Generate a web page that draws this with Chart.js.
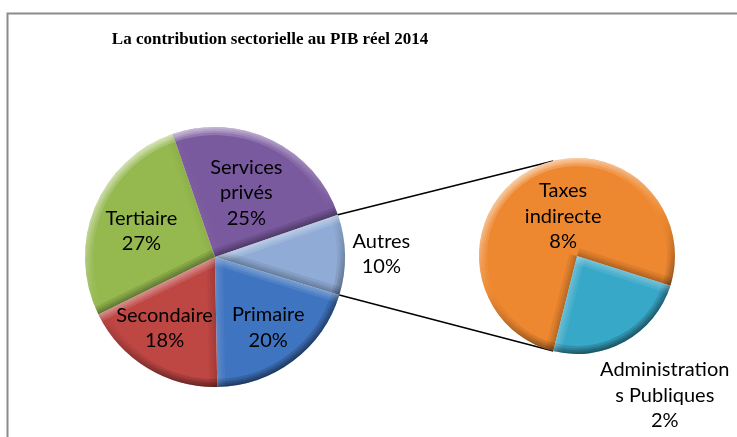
<!DOCTYPE html>
<html>
<head>
<meta charset="utf-8">
<script src="https://cdn.jsdelivr.net/npm/chart.js@4.4.0/dist/chart.umd.min.js"></script>
<style>
  html, body { margin: 0; padding: 0; background: #fff; }
  #wrap { position: relative; width: 737px; height: 437px; }
  #wrap canvas { position: absolute; left: 0; top: 0; }
</style>
</head>
<body>
<div id="wrap">
  <canvas id="mainPie" width="737" height="437"></canvas>
  <canvas id="subPie" width="737" height="437"></canvas>
</div>
<script>
// data
const chartTitle = 'La contribution sectorielle au PIB réel 2014';
const mainLabels = [['Primaire'], ['Secondaire'], ['Tertiaire'], ['Services', 'privés'], ['Autres']];
const mainValues = [20, 18, 27, 25, 10];
const subLabels = [['Taxes', 'indirecte'], ['Administration', 's Publiques']];
const subValues = [7.6, 2.4];

const mainColors = ['#3f74c0', '#be4643', '#95b84f', '#7a5a9e', '#90acd6'];
const subColors = ['#ee8830', '#38a8c8'];

const labelFont = '20px Lato';
const lineH = 25.5;
const light = { x: -0.4, y: -0.92 };

function shade(d, k) {
  return d > 0 ? 'rgba(255,255,255,' + (0.55 * k * d).toFixed(3) + ')'
               : 'rgba(0,0,0,' + (-0.45 * k * d).toFixed(3) + ')';
}

// fake excel bevel: light band on edges facing up-left, dark on the others
const bevel = {
  id: 'bevel',
  afterDatasetsDraw(chart) {
    const ctx = chart.ctx;
    chart.getDatasetMeta(0).data.forEach(function (arc) {
      const p = arc.getProps(['x', 'y', 'startAngle', 'endAngle', 'outerRadius'], true);
      const R = p.outerRadius;
      ctx.save();
      ctx.beginPath();
      ctx.moveTo(p.x, p.y);
      ctx.arc(p.x, p.y, R, p.startAngle, p.endAngle);
      ctx.closePath();
      ctx.clip();

      const cg = ctx.createConicGradient(0, p.x, p.y);
      for (let i = 0; i <= 36; i++) {
        const a = i / 36 * Math.PI * 2;
        cg.addColorStop(i / 36, shade(Math.cos(a) * light.x + Math.sin(a) * light.y, 1));
      }
      const n1 = { x: Math.sin(p.startAngle), y: -Math.cos(p.startAngle) };
      const n2 = { x: -Math.sin(p.endAngle), y: Math.cos(p.endAngle) };
      const s1 = shade(n1.x * light.x + n1.y * light.y, 0.6);
      const s2 = shade(n2.x * light.x + n2.y * light.y, 0.6);

      [16, 11, 7, 3].forEach(function (w) {
        ctx.globalAlpha = 0.35;
        ctx.lineWidth = w;
        ctx.strokeStyle = cg;
        ctx.beginPath();
        ctx.arc(p.x, p.y, R, p.startAngle, p.endAngle);
        ctx.stroke();
        ctx.strokeStyle = s1;
        ctx.beginPath();
        ctx.moveTo(p.x, p.y);
        ctx.lineTo(p.x + R * Math.cos(p.startAngle), p.y + R * Math.sin(p.startAngle));
        ctx.stroke();
        ctx.strokeStyle = s2;
        ctx.beginPath();
        ctx.moveTo(p.x, p.y);
        ctx.lineTo(p.x + R * Math.cos(p.endAngle), p.y + R * Math.sin(p.endAngle));
        ctx.stroke();
      });
      ctx.restore();
    });
  }
};

// labels: name lines + rounded percent, placed near the slice bisector
const sliceLabels = {
  id: 'sliceLabels',
  afterDraw(chart, args, opts) {
    const ctx = chart.ctx;
    const data = chart.data.datasets[0].data;
    ctx.save();
    ctx.font = labelFont;
    ctx.fillStyle = '#000';
    ctx.textAlign = 'center';
    ctx.textBaseline = 'middle';
    chart.getDatasetMeta(0).data.forEach(function (arc, i) {
      const p = arc.getProps(['x', 'y', 'startAngle', 'endAngle', 'outerRadius'], true);
      const mid = (p.startAngle + p.endAngle) / 2 + (opts.turn[i] || 0) * Math.PI / 180;
      const r = p.outerRadius * opts.dist[i];
      const cx = p.x + r * Math.cos(mid);
      const cy = p.y + r * Math.sin(mid);
      const lines = chart.data.labels[i].concat([Math.round(data[i]) + '%']);
      const y0 = cy - (lines.length - 1) * lineH / 2;
      lines.forEach(function (t, k) {
        ctx.fillText(t, cx, y0 + k * lineH);
      });
    });
    ctx.restore();
  }
};

const frame = {
  id: 'frame',
  beforeDraw(chart) {
    const ctx = chart.ctx;
    ctx.save();
    ctx.strokeStyle = '#8c8c8c';
    ctx.lineWidth = 2;
    ctx.beginPath();
    ctx.moveTo(7.5, 437);
    ctx.lineTo(7.5, 13.5);
    ctx.lineTo(737, 13.5);
    ctx.stroke();
    ctx.font = 'bold 17px "Liberation Serif"';
    ctx.fillStyle = '#000';
    ctx.textAlign = 'center';
    ctx.textBaseline = 'middle';
    ctx.fillText(chartTitle, 270, 40);
    ctx.restore();
  }
};

const mainChart = new Chart(document.getElementById('mainPie'), {
  type: 'pie',
  data: {
    labels: mainLabels,
    datasets: [{
      data: mainValues,
      backgroundColor: mainColors,
      borderWidth: 0
    }]
  },
  options: {
    responsive: false,
    animation: false,
    events: [],
    rotation: 107,
    layout: { padding: { left: 85, right: 392, top: 127, bottom: 50 } },
    plugins: {
      legend: { display: false },
      tooltip: { enabled: false },
      sliceLabels: { dist: [0.68, 0.67, 0.6, 0.55, 1.28], turn: [0, 4, -3, 0, 0] }
    }
  },
  plugins: [frame, bevel, sliceLabels]
});

// lines joining the "Autres" slice to the second pie
const connectors = {
  id: 'connectors',
  beforeDatasetsDraw(chart) {
    const a = mainChart.getDatasetMeta(0).data[4].getProps(['x', 'y', 'startAngle', 'endAngle', 'outerRadius'], true);
    const b = chart.getDatasetMeta(0).data[0].getProps(['x', 'y', 'outerRadius'], true);
    const off = 14 * Math.PI / 180;
    const ctx = chart.ctx;
    ctx.save();
    ctx.strokeStyle = '#000';
    ctx.lineWidth = 1.5;
    ctx.beginPath();
    ctx.moveTo(a.x + a.outerRadius * Math.cos(a.startAngle), a.y + a.outerRadius * Math.sin(a.startAngle));
    ctx.lineTo(b.x + b.outerRadius * Math.cos(-Math.PI / 2 - off), b.y + b.outerRadius * Math.sin(-Math.PI / 2 - off));
    ctx.moveTo(a.x + a.outerRadius * Math.cos(a.endAngle), a.y + a.outerRadius * Math.sin(a.endAngle));
    ctx.lineTo(b.x + b.outerRadius * Math.cos(Math.PI / 2 + off), b.y + b.outerRadius * Math.sin(Math.PI / 2 + off));
    ctx.stroke();
    ctx.restore();
  }
};

const subChart = new Chart(document.getElementById('subPie'), {
  type: 'pie',
  data: {
    labels: subLabels,
    datasets: [{
      data: subValues,
      backgroundColor: subColors,
      borderWidth: 0
    }]
  },
  options: {
    responsive: false,
    animation: false,
    events: [],
    rotation: 194,
    layout: { padding: { left: 479, right: 62, top: 158, bottom: 83 } },
    plugins: {
      legend: { display: false },
      tooltip: { enabled: false },
      sliceLabels: { dist: [0.43, 1.68], turn: [10, -3] }
    }
  },
  plugins: [connectors, bevel, sliceLabels]
});
</script>
</body>
</html>
